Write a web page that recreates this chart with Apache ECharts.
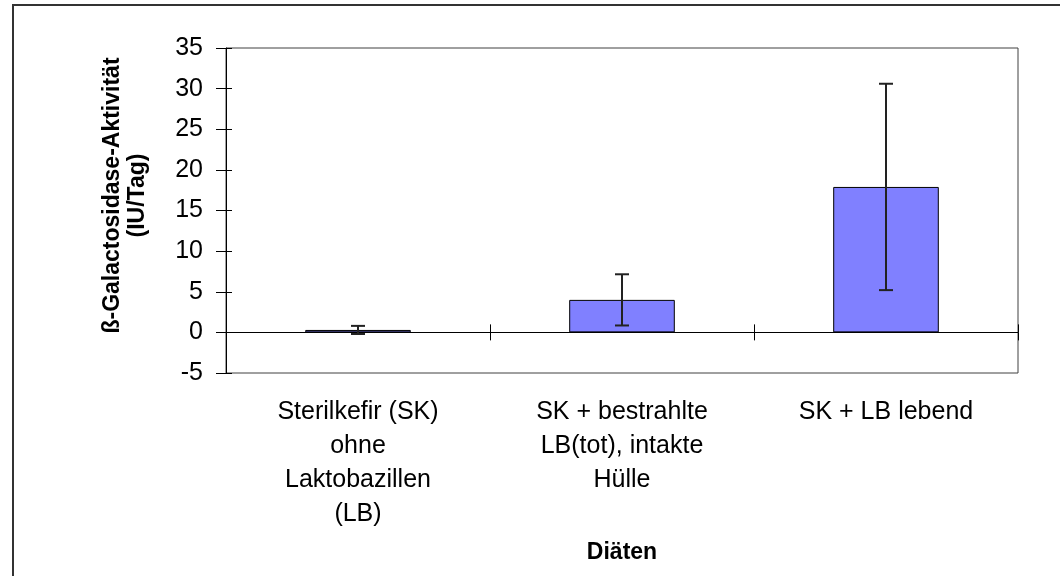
<!DOCTYPE html>
<html lang="de">
<head>
<meta charset="utf-8">
<title>ß-Galactosidase-Aktivität nach Diäten</title>
<script src="https://cdn.jsdelivr.net/npm/echarts@6/dist/echarts.min.js"></script>
<style>
  html, body { margin: 0; padding: 0; background: #fff; }
  #chart { width: 1060px; height: 576px; }
</style>
</head>
<body>
<div id="chart"></div>
<script>
// Diets (x categories)
const categories = [
  'Sterilkefir (SK)\nohne\nLaktobazillen\n(LB)',
  'SK + bestrahlte\nLB(tot), intakte\nHülle',
  'SK + LB lebend'
];
// Mean β-galactosidase activity (IU/day) per diet
const activity = [0.3, 4.0, 17.9];
// Standard deviation shown as error bars
const deviation = [0.5, 3.15, 12.7];
// Value axis range and tick step
const yMin = -5;
const yMax = 35;
const yStep = 5;

const FONT = "'Liberation Sans', Arial, sans-serif";

const errorData = categories.map((c, i) => [i, activity[i] - deviation[i], activity[i] + deviation[i]]);

const chart = echarts.init(document.getElementById('chart'), null, { renderer: 'canvas' });

chart.setOption({
  animation: false,
  backgroundColor: '#ffffff',
  textStyle: { fontFamily: FONT, color: '#000' },
  graphic: [{
    type: 'rect',
    z: -10,
    shape: { x: 13, y: 5, width: 1100, height: 700 },
    style: { fill: 'none', stroke: '#333333', lineWidth: 2 }
  }],
  grid: {
    left: 226, right: 42, top: 48, bottom: 203,
    show: true, borderColor: '#404040', borderWidth: 1, backgroundColor: 'transparent'
  },
  xAxis: [
    {
      // zero line with outward ticks at category boundaries
      type: 'category', data: categories, position: 'bottom',
      axisLine: { show: true, onZero: true, onZeroAxisIndex: 0, lineStyle: { color: '#000', width: 1 } },
      axisTick: { show: true, inside: false, length: 8, lineStyle: { color: '#000' } },
      axisLabel: { show: false }, splitLine: { show: false }
    },
    {
      // inward half of the crossing ticks
      type: 'category', data: categories, position: 'bottom',
      axisLine: { show: false, onZero: true, onZeroAxisIndex: 0 },
      axisTick: { show: true, inside: true, length: 8, lineStyle: { color: '#000' } },
      axisLabel: { show: false }, splitLine: { show: false }
    },
    {
      // category labels and axis title below the plot
      type: 'category', data: categories, position: 'bottom',
      axisLine: { show: false, onZero: false },
      axisTick: { show: false },
      axisLabel: { show: true, margin: 22, fontSize: 25, lineHeight: 34, color: '#000', fontFamily: FONT, interval: 0 },
      splitLine: { show: false },
      name: 'Diäten', nameLocation: 'middle', nameGap: 168,
      nameTextStyle: { fontSize: 23, fontWeight: 'bold', color: '#000', fontFamily: FONT }
    }
  ],
  yAxis: [
    {
      type: 'value', position: 'left', min: yMin, max: yMax, interval: yStep,
      axisLine: { show: true, onZero: false, lineStyle: { color: '#000', width: 1 } },
      axisTick: { show: true, inside: false, length: 10, lineStyle: { color: '#000' } },
      axisLabel: { fontSize: 25, margin: 23, color: '#000', fontFamily: FONT },
      splitLine: { show: false },
      name: 'ß-Galactosidase-Aktivität\n(IU/Tag)',
      nameLocation: 'middle', nameRotate: 90, nameGap: 76,
      nameTextStyle: { fontSize: 23, fontWeight: 'bold', lineHeight: 25, color: '#000', fontFamily: FONT, padding: [0, 0, 0, 30] }
    },
    {
      type: 'value', position: 'left', min: yMin, max: yMax, interval: yStep,
      axisLine: { show: false, onZero: false },
      axisTick: { show: true, inside: true, length: 6, lineStyle: { color: '#000' } },
      axisLabel: { show: false }, splitLine: { show: false }
    }
  ],
  series: [
    {
      type: 'bar', xAxisIndex: 0, yAxisIndex: 0,
      data: activity,
      barCategoryGap: '60%',
      itemStyle: { color: '#8080FF', borderColor: '#000', borderWidth: 1 }
    },
    {
      type: 'custom', xAxisIndex: 0, yAxisIndex: 0,
      data: errorData,
      encode: { x: 0, y: [1, 2] },
      z: 5,
      renderItem: function (params, api) {
        const x = api.value(0);
        const lo = api.coord([x, api.value(1)]);
        const hi = api.coord([x, api.value(2)]);
        const half = 7;
        const style = { stroke: '#222', lineWidth: 2 };
        return {
          type: 'group',
          children: [
            { type: 'line', shape: { x1: hi[0], y1: hi[1], x2: lo[0], y2: lo[1] }, style: style },
            { type: 'line', shape: { x1: hi[0] - half, y1: hi[1], x2: hi[0] + half, y2: hi[1] }, style: style },
            { type: 'line', shape: { x1: lo[0] - half, y1: lo[1], x2: lo[0] + half, y2: lo[1] }, style: style }
          ]
        };
      }
    }
  ]
});
</script>
</body>
</html>
